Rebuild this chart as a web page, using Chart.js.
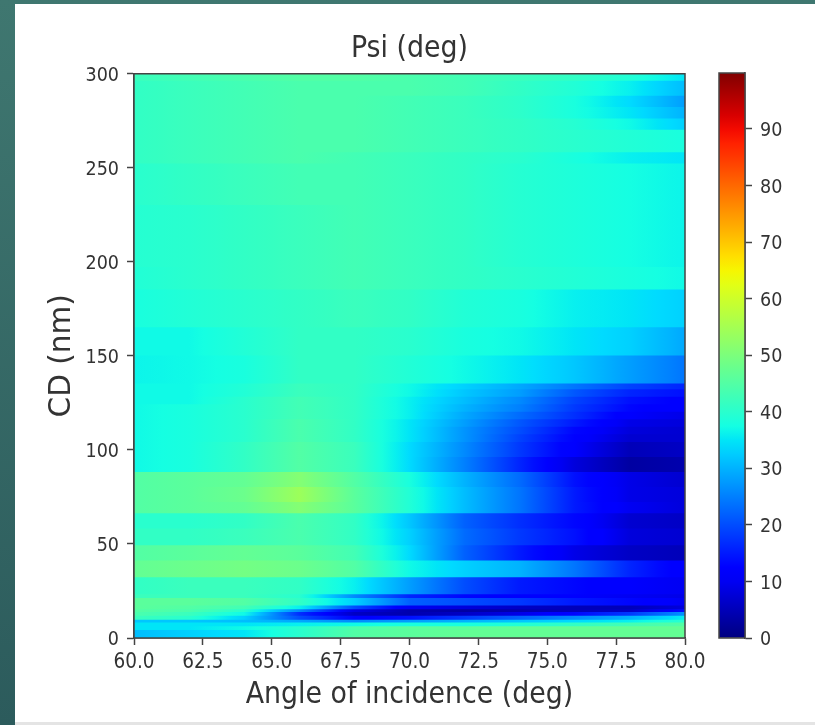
<!DOCTYPE html>
<html>
<head>
<meta charset="utf-8">
<title>Psi (deg)</title>
<script src="https://cdn.jsdelivr.net/npm/chart.js@4/dist/chart.umd.min.js"></script>
<style>
  html, body { margin: 0; padding: 0; width: 815px; height: 725px; overflow: hidden; }
  body { background: linear-gradient(180deg, #3f7770, #2c5b5c); }
  #panel { position: absolute; left: 15px; top: 4px; width: 800px; height: 718px; background: #fff; }
  #bottom { position: absolute; left: 15px; top: 722px; width: 800px; height: 3px; background: #e4e4e4; }
  canvas { position: absolute; top: 0; filter: blur(0.7px); }
  #heat { left: 0; }
  #bar { left: 700px; }
</style>
</head>
<body>
<div id="panel"></div>
<div id="bottom"></div>
<canvas id="heat" width="815" height="725"></canvas>
<canvas id="bar" width="115" height="725"></canvas>
<script>
// angles of the columns (deg)
const angles = [60, 62, 64, 66, 68, 70, 72, 74, 76, 78, 80];
// edges of the rows (nm), bottom to top
const cdEdges = [0, 4, 6, 8, 9.5, 11.5, 13.5, 15, 17, 21, 23, 32, 41, 49, 58, 66, 72, 80, 88, 96, 104, 108, 112, 116, 120, 124, 128, 132, 135, 150, 165, 185, 197, 230, 252, 258, 270, 276, 282, 288, 296, 300];
// psi values, one line per row, one number per angle
const psi = [
  [31, 33, 35, 40, 45, 46, 47, 47, 47, 47, 47],
  [35, 35, 37, 40, 44, 46, 46, 47, 47, 47, 47],
  [35, 35, 35, 36, 37, 38, 38, 39, 41, 43, 45],
  [32, 32, 31, 29, 26, 28, 30, 32, 34, 36, 40],
  [42, 40, 33, 20, 12, 14, 18, 22, 26, 30, 36],
  [44, 42, 37, 17, 6, 4, 6, 9, 13, 18, 27],
  [45, 44, 40, 26, 9, 4, 3, 4, 5, 6, 14],
  [46, 45, 43, 36, 20, 10, 8, 6, 5, 5, 8],
  [46, 46, 45, 41, 33, 22, 20, 18, 15, 13, 10],
  [42, 42, 42, 40, 26, 16, 13, 12, 11, 10, 9],
  [41, 42, 42, 41, 36, 28, 20, 15, 13, 11, 10],
  [47, 48, 49, 48, 45, 37, 33, 30, 24, 16, 11],
  [45, 46, 47, 46, 43, 34, 22, 15, 9, 6, 5],
  [41, 41, 42, 44, 41, 33, 23, 18, 14, 8, 7],
  [40, 40, 41, 44, 41, 32, 22, 17, 13, 7, 6],
  [45, 46, 47, 51, 46, 39, 31, 24, 15, 10, 8],
  [45, 46, 48, 54, 46, 39, 31, 24, 15, 9, 8],
  [45, 46, 47, 51, 45, 38, 30, 23, 14, 9, 7],
  [37, 38, 41, 45, 42, 34, 25, 16, 8, 3, 4],
  [37, 38, 41, 45, 42, 34, 26, 18, 11, 5, 6],
  [37, 38, 40, 44, 41, 35, 27, 19, 12, 7, 7],
  [37, 38, 40, 44, 41, 35, 27, 20, 13, 8, 7],
  [37, 38, 40, 44, 41, 35, 28, 21, 15, 9, 8],
  [37, 38, 40, 43, 41, 36, 29, 23, 17, 11, 9],
  [37, 38, 40, 43, 41, 36, 30, 25, 18, 13, 11],
  [37, 37, 40, 43, 41, 36, 31, 26, 19, 14, 12],
  [37, 37, 39, 42, 41, 37, 32, 28, 21, 16, 14],
  [37, 37, 39, 42, 41, 37, 33, 29, 24, 19, 16],
  [36.5, 37, 38, 41, 41, 39, 37, 35, 32, 28, 24],
  [37, 37, 39, 41, 41, 40, 38, 37, 35, 33, 29],
  [38, 39, 40, 41, 42, 41, 39, 38, 36, 35, 33],
  [39, 40, 41, 42, 43, 42, 41, 40, 39, 38, 37],
  [39.5, 40, 41, 42, 43, 42, 41, 39.5, 38.5, 37.5, 36.5],
  [40, 41, 42, 43, 43, 42, 41, 39.5, 38.5, 37.5, 36.5],
  [41, 42, 43, 44, 43, 42, 41, 40, 38, 36, 35],
  [41, 42, 43, 44, 44, 43, 42, 41, 40, 39, 38],
  [41, 42, 43, 44, 44, 43, 42, 41, 39.5, 37, 33],
  [41, 42, 43, 44, 44, 43, 42, 40.5, 38, 35, 30],
  [41, 42, 43, 44, 44, 43, 42, 40.5, 38, 34, 28],
  [41, 42, 43, 44, 44, 44, 43, 41, 39, 36, 31],
  [42, 43, 44, 45, 45, 44, 43, 42, 41, 39, 35],
];
const colorbarMax = 99.9;
const colorbarTicks = [0, 10, 20, 30, 40, 50, 60, 70, 80, 90];

const fontFamily = '"DejaVu Sans Condensed", "DejaVu Sans", sans-serif';
const textColor = "#333333";
const axisColor = "#444444";

// matplotlib jet colormap
function channel(v, pts) {
  for (let i = 1; i < pts.length; i++) {
    if (v <= pts[i][0]) {
      const t = (v - pts[i - 1][0]) / (pts[i][0] - pts[i - 1][0]);
      return pts[i - 1][1] + t * (pts[i][1] - pts[i - 1][1]);
    }
  }
  return pts[pts.length - 1][1];
}
function jet(value) {
  const v = Math.max(0, Math.min(1, value / 100));
  const r = channel(v, [[0, 0], [0.35, 0], [0.66, 1], [0.89, 1], [1, 0.5]]);
  const g = channel(v, [[0, 0], [0.125, 0], [0.375, 1], [0.64, 1], [0.91, 0], [1, 0]]);
  const b = channel(v, [[0, 0.5], [0.11, 1], [0.34, 1], [0.65, 0], [1, 0]]);
  return `rgb(${Math.round(r * 255)},${Math.round(g * 255)},${Math.round(b * 255)})`;
}

// horizontal gradient of one row, placed with the angle scale
function rowGradient(chart, row) {
  const scale = chart.scales.xAngle;
  if (!scale || !chart.chartArea) return jet(row[0]);
  const x0 = scale.getPixelForValue(angles[0]);
  const x1 = scale.getPixelForValue(angles[angles.length - 1]);
  const grad = chart.ctx.createLinearGradient(x0, 0, x1, 0);
  const last = angles.length - 1;
  for (let i = 0; i < last; i++) {
    for (let k = 0; k < 4; k++) {
      const t = k / 4;
      const a = angles[i] + t * (angles[i + 1] - angles[i]);
      const v = row[i] + t * (row[i + 1] - row[i]);
      grad.addColorStop((a - angles[0]) / (angles[last] - angles[0]), jet(v));
    }
  }
  grad.addColorStop(1, jet(row[last]));
  return grad;
}

// colorbar gradient, bottom to top
function barGradient(chart) {
  const scale = chart.scales.y;
  if (!scale || !chart.chartArea) return jet(50);
  const grad = chart.ctx.createLinearGradient(0, scale.getPixelForValue(0), 0, scale.getPixelForValue(colorbarMax));
  for (let i = 0; i <= 40; i++) {
    grad.addColorStop(i / 40, jet((i / 40) * colorbarMax));
  }
  return grad;
}

const frame = {
  id: "frame",
  afterDraw(chart) {
    const a = chart.chartArea;
    const ctx = chart.ctx;
    ctx.save();
    ctx.strokeStyle = axisColor;
    ctx.lineWidth = 1.5;
    ctx.strokeRect(a.left, a.top, a.right - a.left, a.bottom - a.top);
    ctx.restore();
  },
};

new Chart(document.getElementById("heat"), {
  type: "bar",
  data: {
    labels: ["all"],
    datasets: psi.map((row, i) => ({
      data: [[cdEdges[i], cdEdges[i + 1]]],
      xAxisID: "xCat",
      yAxisID: "y",
      backgroundColor: (c) => rowGradient(c.chart, row),
      borderWidth: 0,
      inflateAmount: 0.5,
      grouped: false,
      categoryPercentage: 1,
      barPercentage: 1,
    })),
  },
  plugins: [frame],
  options: {
    responsive: false,
    animation: false,
    layout: { padding: { right: 130 } },
    plugins: {
      legend: { display: false },
      tooltip: { enabled: false },
      title: {
        display: true,
        fullSize: false,
        text: "Psi (deg)",
        color: textColor,
        font: { family: fontFamily, size: 29.8, weight: "normal" },
        padding: { top: 31, bottom: 7 },
      },
    },
    scales: {
      xCat: { type: "category", display: false },
      xAngle: {
        type: "linear",
        position: "bottom",
        offset: false,
        min: 60,
        max: 80,
        grid: { drawOnChartArea: false, offset: false, color: axisColor, tickLength: 7, tickWidth: 1.5 },
        border: { color: axisColor, width: 1.5 },
        ticks: {
          stepSize: 2.5,
          maxRotation: 0,
          autoSkip: false,
          padding: 5,
          color: textColor,
          font: { family: fontFamily, size: 20.5 },
          callback: (v) => Number(v).toFixed(1),
        },
        title: {
          display: true,
          text: "Angle of incidence (deg)",
          color: textColor,
          font: { family: fontFamily, size: 29.8 },
          padding: { top: 0, bottom: 12 },
        },
        afterFit(scale) { scale.height = 87; },
      },
      y: {
        type: "linear",
        min: 0,
        max: 300,
        grid: { drawOnChartArea: false, color: axisColor, tickLength: 7, tickWidth: 1.5 },
        border: { color: axisColor, width: 1.5 },
        ticks: {
          stepSize: 50,
          padding: 8,
          labelOffset: 2,
          color: textColor,
          font: { family: fontFamily, size: 19.5 },
        },
        title: {
          display: true,
          text: "CD (nm)",
          color: textColor,
          font: { family: '"DejaVu Sans", sans-serif', size: 29.5 },
          padding: { top: 45, bottom: 0 },
        },
        afterFit(scale) { scale.width = 134; },
      },
    },
  },
});

new Chart(document.getElementById("bar"), {
  type: "bar",
  data: {
    labels: ["bar"],
    datasets: [{
      data: [[0, colorbarMax]],
      backgroundColor: (c) => barGradient(c.chart),
      borderWidth: 0,
      categoryPercentage: 1,
      barPercentage: 1,
    }],
  },
  plugins: [frame],
  options: {
    responsive: false,
    animation: false,
    layout: { padding: { left: 19, top: 73, bottom: 87 } },
    plugins: { legend: { display: false }, tooltip: { enabled: false } },
    scales: {
      x: { type: "category", display: false },
      y: {
        type: "linear",
        position: "right",
        min: 0,
        max: colorbarMax,
        grid: { drawOnChartArea: false, color: axisColor, tickLength: 7, tickWidth: 1.5 },
        border: { color: axisColor, width: 1.5 },
        ticks: {
          padding: 8,
          labelOffset: 2,
          color: textColor,
          font: { family: fontFamily, size: 19.5 },
        },
        afterBuildTicks(scale) { scale.ticks = colorbarTicks.map((v) => ({ value: v })); },
        afterFit(scale) { scale.width = 70; },
      },
    },
  },
});
</script>
</body>
</html>
